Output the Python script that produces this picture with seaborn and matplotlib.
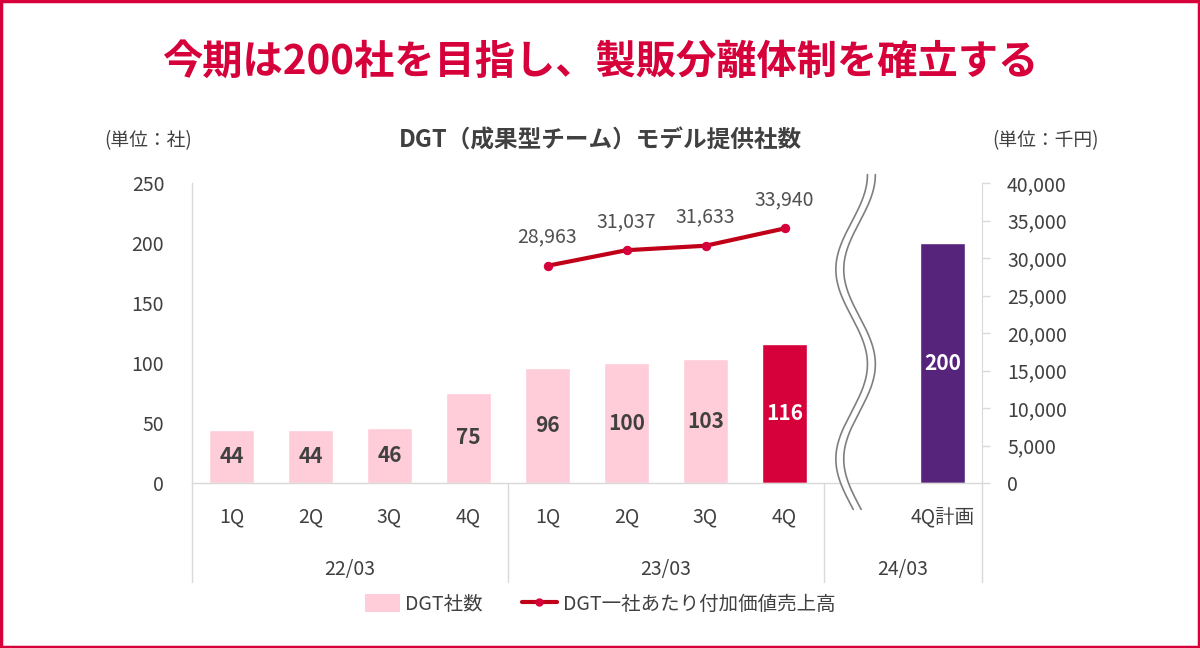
import numpy as np
import pandas as pd
import seaborn as sns
import matplotlib.pyplot as plt
from matplotlib.patches import Patch, Rectangle
from matplotlib.lines import Line2D
import matplotlib.transforms as mtransforms

# data
quarters = ["1Q", "2Q", "3Q", "4Q", "1Q", "2Q", "3Q", "4Q", "4Q計画"]
positions = [0, 1, 2, 3, 4, 5, 6, 7, 9]
company_counts = [44, 44, 46, 75, 96, 100, 103, 116, 200]
bar_colors = ["#FFCCD9"] * 7 + ["#D6003A", "#56247A"]
label_colors = ["#404040"] * 7 + ["white", "white"]

line_positions = [4, 5, 6, 7]
sales_per_company = [28963, 31037, 31633, 33940]

years = ["22/03", "23/03", "24/03"]
year_centers = [1.5, 5.5, 8.5]
year_bounds = [-0.5, 3.5, 7.5, 9.5]

RED = "#D6003A"
LINE_RED = "#C00018"
GRAY = "#404040"
SPINE = "#D9D9D9"

sns.set_style("white")
plt.rcParams["font.family"] = ["Noto Sans CJK JP", "DejaVu Sans"]

fig = plt.figure(figsize=(12, 6.48), dpi=100)
ax = fig.add_axes([192 / 1200, 1 - 483 / 648, 790 / 1200, 300 / 648])
ax2 = ax.twinx()

df = pd.DataFrame({"pos": positions, "count": company_counts,
                   "key": [f"b{i}" for i in range(len(positions))]})
palette = dict(zip(df["key"], bar_colors))
sns.barplot(data=df, x="pos", y="count", hue="key", palette=palette,
            native_scale=True, width=0.56, saturation=1, legend=False,
            ax=ax, zorder=2)

for p, v, c in zip(positions, company_counts, label_colors):
    ax.text(p, v / 2, f"{v}", ha="center", va="center", color=c,
            fontsize=15, fontweight="bold", zorder=5)

ax.set_xlim(-0.5, 9.5)
ax.set_ylim(0, 250)
ax.set_yticks(range(0, 251, 50))
ax.set_xticks(positions)
ax.set_xticklabels(quarters)
ax.set_xlabel("")
ax.set_ylabel("")
ax.tick_params(axis="x", length=0, pad=17, labelsize=14, labelcolor=GRAY)
ax.tick_params(axis="y", length=0, pad=20, labelsize=14, labelcolor=GRAY)
for s in ["top", "right"]:
    ax.spines[s].set_visible(False)
for s in ["left", "bottom"]:
    ax.spines[s].set_color(SPINE)
    ax.spines[s].set_linewidth(1)

# per-company sales line (right axis)
sns.lineplot(x=line_positions, y=sales_per_company, ax=ax2, color=LINE_RED,
             linewidth=3, marker="o", markersize=6, markerfacecolor=RED,
             markeredgecolor=RED, zorder=4)
for p, v in zip(line_positions, sales_per_company):
    ax2.annotate(f"{v:,}", (p, v), xytext=(0, 13), textcoords="offset points",
                 ha="center", va="bottom", fontsize=14, color="#505050")
ax2.set_ylim(0, 40000)
ax2.set_yticks(range(0, 40001, 5000))
ax2.set_yticklabels([f"{t:,}" for t in range(0, 40001, 5000)])
ax2.tick_params(axis="y", length=6, width=1, color=SPINE, pad=12,
                labelsize=14, labelcolor=GRAY)
for s in ["top", "left", "bottom"]:
    ax2.spines[s].set_visible(False)
ax2.spines["right"].set_color(SPINE)

# category groups below the axis
trans = mtransforms.blended_transform_factory(ax.transData, ax.transAxes)
for b in year_bounds:
    ax.plot([b, b], [0, -0.33], transform=trans, color=SPINE, lw=1,
            clip_on=False)
for c, y in zip(year_centers, years):
    ax.text(c, -0.29, y, transform=trans, ha="center", va="center",
            fontsize=14, color=GRAY)

# wavy break between 23/03 and 24/03
yy = np.linspace(257, -22, 300)
xx = 7.9 + 0.2 * np.cos(2 * np.pi * (257 - yy) / 158)
ax.fill_betweenx(yy, xx - 0.05, xx + 0.05, color="white", zorder=6,
                 clip_on=False)
ax.plot(xx - 0.05, yy, color="#7F7F7F", lw=1.2, zorder=7, clip_on=False)
ax.plot(xx + 0.05, yy, color="#7F7F7F", lw=1.2, zorder=7, clip_on=False)

# titles and units
fig.text(0.5, 1 - 62 / 648, "今期は200社を目指し、製販分離体制を確立する",
         ha="center", va="center", fontsize=29, fontweight="bold", color=RED)
fig.text(0.5, 1 - 141 / 648, "DGT（成果型チーム）モデル提供社数",
         ha="center", va="center", fontsize=17, fontweight="bold", color=GRAY)
fig.text(148 / 1200, 1 - 141 / 648, "(単位：社)", ha="center", va="center",
         fontsize=13.5, color=GRAY)
fig.text(1045 / 1200, 1 - 141 / 648, "(単位：千円)", ha="center", va="center",
         fontsize=13.5, color=GRAY)

handles = [Patch(facecolor="#FFCCD9", edgecolor="none"),
           Line2D([], [], color=LINE_RED, lw=3, marker="o", markersize=5,
                  markerfacecolor=RED, markeredgecolor=RED)]
fig.legend(handles, ["DGT社数", "DGT一社あたり付加価値売上高"],
           loc="center", bbox_to_anchor=(0.5, 1 - 604 / 648), ncol=2,
           frameon=False, fontsize=14, labelcolor=GRAY, handlelength=1.8,
           handleheight=1.0, columnspacing=2.0, handletextpad=0.3)

# outer frame
fig.patches.append(Rectangle((0.001, 0.002), 0.998, 0.996,
                             transform=fig.transFigure, fill=False,
                             edgecolor=RED, linewidth=2.5))

fig.savefig("out.png", dpi=100)
